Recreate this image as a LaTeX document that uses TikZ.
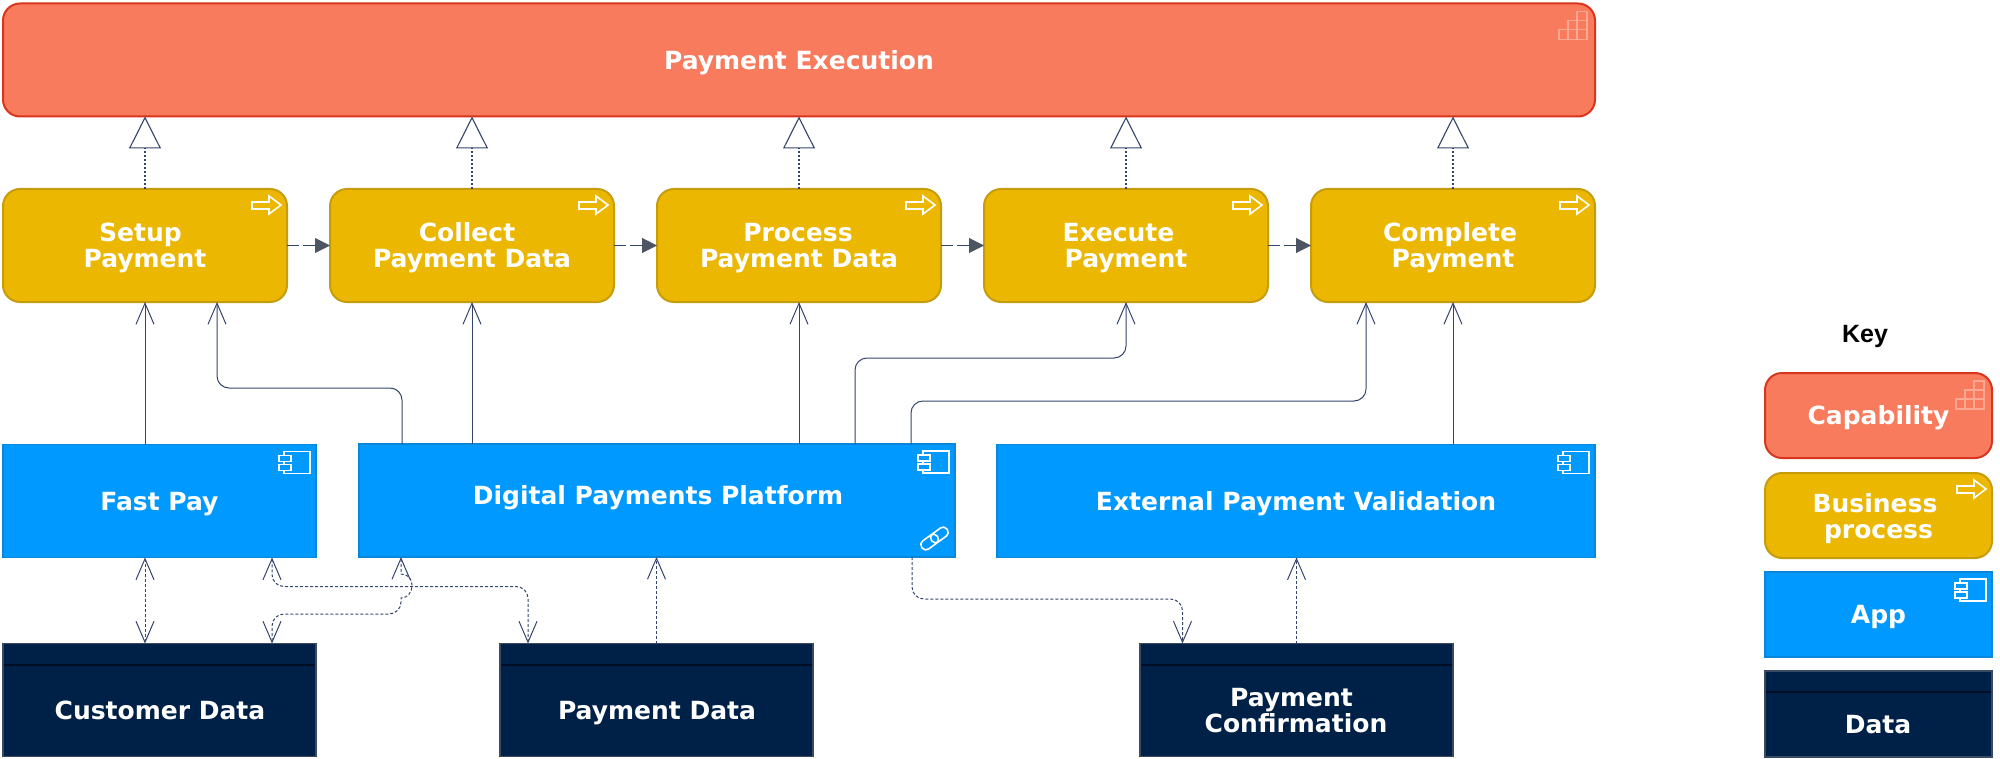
\documentclass[tikz,border=0pt]{standalone}
\usepackage{fontspec}
\setmainfont{DejaVu Sans}
\newfontfamily\keyfont{Liberation Sans}
\usetikzlibrary{arrows.meta,positioning}
\definecolor{capfill}{HTML}{F87B5E}
\definecolor{capline}{HTML}{D9351C}
\definecolor{capicon}{HTML}{FBA792}
\definecolor{procfill}{HTML}{ECB700}
\definecolor{procline}{HTML}{C79C0B}
\definecolor{appfill}{HTML}{0099FF}
\definecolor{appline}{HTML}{0A86DB}
\definecolor{datafill}{HTML}{002147}
\definecolor{dataline}{HTML}{3B4A63}
\definecolor{datainner}{HTML}{000F26}
\definecolor{connline}{HTML}{33456B}
\definecolor{tipfill}{HTML}{4D5562}
\begin{document}
\begin{tikzpicture}[x=0.5pt,y=-0.5pt,
    txt/.style={text=white,align=center,inner sep=0pt,text depth=0pt,font=\fontsize{12.5}{13}\selectfont\bfseries},
    box node/.style={txt,outer sep=0pt,minimum height=56.5pt},
    cap node/.style={box node,draw=capline,fill=capfill,line width=1pt,rounded corners=8.5pt},
    proc node/.style={box node,draw=procline,fill=procfill,line width=1pt,rounded corners=8.5pt,minimum width=142pt},
    app node/.style={box node,draw=appline,fill=appfill,line width=0.8pt},
    data node/.style={box node,draw=dataline,fill=datafill,line width=0.8pt,
      path picture={\draw[datainner,line width=1pt] ([yshift=-10.5pt]path picture bounding box.north west) -- ([yshift=-10.5pt]path picture bounding box.north east);}},
    serve/.style={connline,line width=0.5pt,-{Straight Barb[length=10.5pt,width=9pt]}},
    access/.style={connline,line width=0.5pt,dash pattern=on 1.5pt off 1pt,-{Straight Barb[length=10.5pt,width=9pt]}},
    both/.style={connline,line width=0.5pt,dash pattern=on 1.5pt off 1pt,{Straight Barb[length=10.5pt,width=9pt]}-{Straight Barb[length=10.5pt,width=9pt]}},
    realize/.style={connline,line width=0.55pt,dash pattern=on 1pt off 1pt,-{Triangle[open,length=16pt,width=16pt,fill=white,line width=0.55pt]}},
    trigger/.style={connline,line width=0.5pt,dash pattern=on 6pt off 2pt,-{Triangle[length=7.5pt,width=7.5pt,fill=tipfill,color=tipfill]}},
    icon/.style={white,line width=0.8pt},
    proc icon/.pic={\draw[icon] (-35,13) -- (-18,13) -- (-18,7) -- (-6,16) -- (-18,25) -- (-18,20) -- (-35,20) -- cycle;},
    app icon/.pic={\draw[icon] (-32,7) rectangle (-6,29);
      \draw[icon,fill=appfill] (-37,11) rectangle (-25,17);
      \draw[icon,fill=appfill] (-37,20) rectangle (-25,26);},
    cap icon/.pic={\draw[capicon,line width=0.6pt] (-36,26) rectangle (-27,36) (-27,26) rectangle (-18,36) (-18,26) rectangle (-8,36)
      (-27,17) rectangle (-18,26) (-18,17) rectangle (-8,26) (-18,8) rectangle (-8,17);},
    link icon/.pic={\draw[icon,rounded corners=2.2pt,rotate around={36:(-20.5,-18.5)}] (-36,-23.5) rectangle (-17,-13.5);
      \draw[icon,rounded corners=2.2pt,rotate around={36:(-20.5,-18.5)}] (-24,-23.5) rectangle (-5,-13.5);}
  ]
  \useasboundingbox (0,0) rectangle (2000,759);

  % capability
  \node[cap node,minimum width=796pt] (payexec) at (799,60) {Payment Execution};

  % processes
  \node[proc node] (setup) at (145,245.5) {Setup\kern4.5pt\\Payment};
  \node[proc node] (collect) at (472,245.5) {Collect\kern5pt\\Payment Data};
  \node[proc node] (process) at (799,245.5) {Process\kern1pt\\Payment Data};
  \node[proc node] (execute) at (1126,245.5) {Execute\kern7.5pt\\Payment};
  \node[proc node] (complete) at (1453,245.5) {Complete\kern3pt\\Payment};

  % apps
  \node[app node,minimum width=156.5pt] (fastpay) at (159.5,501) {Fast Pay};
  \node[app node,minimum width=298pt] (dpp) at (657,500.5) {};
  \node[txt] (dpptxt) at (658,495) {Digital Payments Platform};
  \node[app node,minimum width=299pt] (external) at (1296,501) {External Payment Validation};

  % data
  \node[data node,minimum width=156.5pt] (custdata) at (159.5,700) {};
  \node[txt] (custtxt) at (160,710) {Customer Data};
  \node[data node,minimum width=156.5pt] (paydata) at (656.5,700) {};
  \node[txt] (paytxt) at (657,710) {Payment Data};
  \node[data node,minimum width=156.5pt] (confirm) at (1296.5,700) {};
  \node[txt] (confirmtxt) at (1296,710) {Payment\kern4.5pt\\Confirmation};

  % key
  \node[font=\keyfont\fontsize{12.5}{14}\selectfont\bfseries,inner sep=0pt] (keytitle) at (1865,336.5) {Key};
  \node[cap node,minimum width=113.5pt,minimum height=42.5pt] (keycap) at (1878.5,415.5) {Capability};
  \node[proc node,minimum width=113.5pt,minimum height=42.5pt] (keyproc) at (1878.5,515.5) {Business\kern3.5pt\\process};
  \node[app node,minimum width=113.5pt,minimum height=42.5pt] (keyapp) at (1878.5,614.5) {App};
  \node[data node,minimum width=113.5pt,minimum height=43pt] (keydata) at (1878.5,714) {};
  \node[txt] (keydatatxt) at (1878,724) {Data};

  % icons
  \pic at (payexec.north east) {cap icon};
  \pic at (keycap.north east) {cap icon};
  \foreach \n in {setup,collect,process,execute,complete,keyproc}
    \pic at (\n.north east) {proc icon};
  \foreach \n in {fastpay,dpp,external,keyapp}
    \pic at (\n.north east) {app icon};
  \pic at (dpp.south east) {link icon};

  % realization
  \path
   (setup.north) edge[realize] (setup.north |- payexec.south)
   (collect.north) edge[realize] (collect.north |- payexec.south)
   (process.north) edge[realize] (process.north |- payexec.south)
   (execute.north) edge[realize] (execute.north |- payexec.south)
   (complete.north) edge[realize] (complete.north |- payexec.south);

  % triggering
  \path
   (setup) edge[trigger] (collect)
   (collect) edge[trigger] (process)
   (process) edge[trigger] (execute)
   (execute) edge[trigger] (complete);

  % serving
  \path
   (fastpay.north -| setup.south) edge[serve] (setup.south)
   (dpp.north -| collect.south) edge[serve] (collect.south)
   (dpp.north -| process.south) edge[serve] (process.south)
   (external.north -| complete.south) edge[serve] (complete.south);
  \draw[serve,rounded corners=6pt] ([xshift=-127.5pt]dpp.north) -- ++(0,-56) -| ([xshift=36pt]setup.south);
  \draw[serve,rounded corners=6pt] ([xshift=99pt]dpp.north) -- ++(0,-86) -| (execute.south);
  \draw[serve,rounded corners=6pt] ([xshift=127pt]dpp.north) -- ++(0,-43) -| ([xshift=-43.5pt]complete.south);

  % data access
  \path
   (paydata.north) edge[access] (paydata.north |- dpp.south)
   (confirm.north) edge[access] (confirm.north |- external.south)
   (fastpay.south -| setup.south) edge[both] (custdata.north -| setup.south);
  \draw[both,rounded corners=6pt] ([xshift=56.25pt]fastpay.south) -- ++(0,29) -| ([xshift=-64.25pt]paydata.north);
  \draw[both] ([xshift=-128pt]dpp.south) -- (401,574) .. controls (408,574) and (412,579) .. (412,585)
    .. controls (412,592) and (408,598) .. (401,598) [rounded corners=6pt] -- (401,614) -| ([xshift=56.25pt]custdata.north);
  \draw[access,rounded corners=6pt] ([xshift=127.5pt]dpp.south) -- ++(0,42) -| ([xshift=-57pt]confirm.north);
\end{tikzpicture}
\end{document}
